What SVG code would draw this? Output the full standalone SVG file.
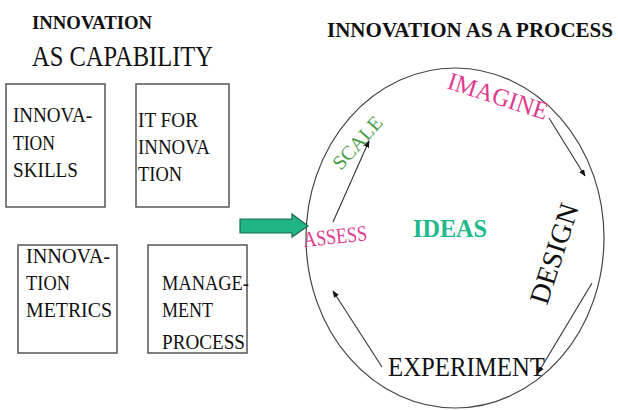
<svg xmlns="http://www.w3.org/2000/svg" width="618" height="410" viewBox="0 0 618 410">
  <defs>
    <marker id="head" viewBox="0 0 10 10" refX="9" refY="5" markerWidth="7" markerHeight="7" orient="auto" markerUnits="userSpaceOnUse">
      <path d="M0,1 L10,5 L0,9 z" fill="#111"/>
    </marker>
    <style>
      .box { fill: #fff; stroke: #555; stroke-width: 1.5; }
      .bt { font-size: 21px; fill: #111; }
      .pink { fill: #df3a8e; }
      .link { fill: none; stroke: #333; stroke-width: 1.1; marker-end: url(#head); }
    </style>
  </defs>
  <rect width="618" height="410" fill="#fff"/>

  <g font-family="'Liberation Serif', 'DejaVu Serif', 'Times New Roman', serif">
  <!-- left heading -->
  <g id="title-capability">
    <text x="32" y="29" font-size="19" font-weight="bold" fill="#111" textLength="120" lengthAdjust="spacingAndGlyphs">INNOVATION</text>
    <text x="32" y="66" font-size="30" fill="#111" textLength="181" lengthAdjust="spacingAndGlyphs">AS CAPABILITY</text>
  </g>

  <!-- capability boxes -->
  <g id="skills">
    <rect class="box" x="6" y="84" width="99" height="123"/>
    <text class="bt" x="13" y="122" textLength="79" lengthAdjust="spacingAndGlyphs">INNOVA-</text>
    <text class="bt" x="13" y="150" textLength="42" lengthAdjust="spacingAndGlyphs">TION</text>
    <text class="bt" x="13" y="177" textLength="65" lengthAdjust="spacingAndGlyphs">SKILLS</text>
  </g>
  <g id="it">
    <rect class="box" x="136" y="84" width="93" height="123"/>
    <text class="bt" x="138" y="127" textLength="60" lengthAdjust="spacingAndGlyphs">IT FOR</text>
    <text class="bt" x="138" y="154" textLength="72" lengthAdjust="spacingAndGlyphs">INNOVA</text>
    <text class="bt" x="138" y="181" textLength="44" lengthAdjust="spacingAndGlyphs">TION</text>
  </g>
  <g id="metrics">
    <rect class="box" x="18" y="245" width="99" height="108"/>
    <text class="bt" x="26" y="263" textLength="84" lengthAdjust="spacingAndGlyphs">INNOVA-</text>
    <text class="bt" x="26" y="290" textLength="44" lengthAdjust="spacingAndGlyphs">TION</text>
    <text class="bt" x="26" y="317" textLength="86" lengthAdjust="spacingAndGlyphs">METRICS</text>
  </g>
  <g id="management">
    <rect class="box" x="148" y="245" width="99" height="108"/>
    <text class="bt" x="162" y="290" textLength="87" lengthAdjust="spacingAndGlyphs">MANAGE-</text>
    <text class="bt" x="162" y="317" textLength="51" lengthAdjust="spacingAndGlyphs">MENT</text>
    <text class="bt" x="162" y="349" textLength="83" lengthAdjust="spacingAndGlyphs">PROCESS</text>
  </g>

  <!-- right heading -->
  <g id="title-process">
    <text x="327" y="37" font-size="21" font-weight="bold" fill="#111" textLength="286" lengthAdjust="spacingAndGlyphs">INNOVATION AS A PROCESS</text>
  </g>

  <!-- process cycle -->
  <g id="cycle">
    <ellipse cx="455" cy="238" rx="149" ry="170" fill="none" stroke="#444" stroke-width="1.2"/>
  </g>

  <g id="connectors">
    <line class="link" x1="549" y1="118" x2="585" y2="176"/>
    <line class="link" x1="592" y1="283" x2="538" y2="373"/>
    <line class="link" x1="382" y1="367" x2="333" y2="291"/>
    <line class="link" x1="333" y1="222" x2="369" y2="141"/>
    <path d="M240,219 L292,219 L292,214 L308,226 L292,237 L292,233 L240,233 z" fill="#20b487" stroke="#1a6a52" stroke-width="1.2"/>
  </g>

  <g id="imagine">
    <text class="pink" font-size="25" textLength="104" lengthAdjust="spacingAndGlyphs" transform="translate(446,88) rotate(18)">IMAGINE</text>
  </g>
  <g id="design">
    <text font-size="28" fill="#111" textLength="104" lengthAdjust="spacingAndGlyphs" transform="translate(547,306) rotate(-72)">DESIGN</text>
  </g>
  <g id="experiment">
    <text x="388" y="376" font-size="27" fill="#111" textLength="157" lengthAdjust="spacingAndGlyphs">EXPERIMENT</text>
  </g>
  <g id="assess">
    <text class="pink" font-size="22" textLength="64" lengthAdjust="spacingAndGlyphs" transform="translate(304,247) rotate(-6)">ASSESS</text>
  </g>
  <g id="scale">
    <text font-size="20" fill="#4a9c4a" textLength="64" lengthAdjust="spacingAndGlyphs" transform="translate(341,171) rotate(-48)">SCALE</text>
  </g>
  <g id="ideas">
    <text x="413" y="237" font-size="25" font-weight="bold" fill="#20b98a" textLength="74" lengthAdjust="spacingAndGlyphs">IDEAS</text>
  </g>
  </g>
</svg>
